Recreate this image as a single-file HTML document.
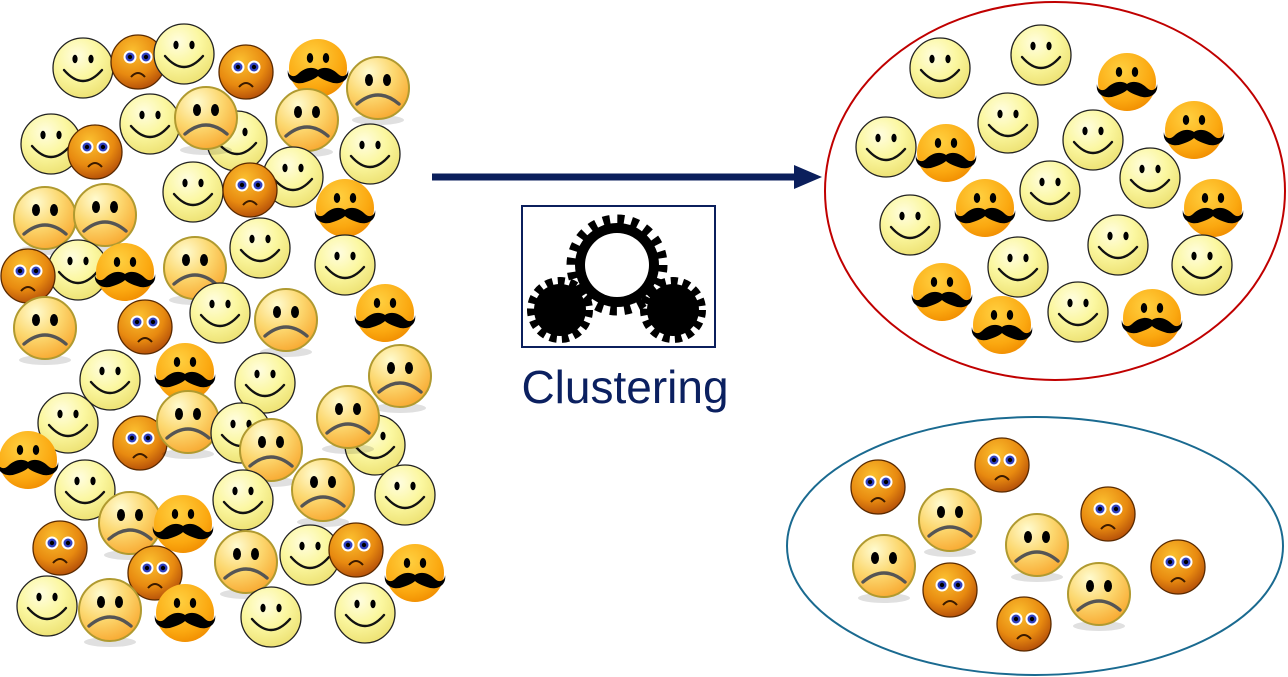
<!DOCTYPE html>
<html><head><meta charset="utf-8"><style>
html,body{margin:0;padding:0;background:#fff;width:1288px;height:677px;overflow:hidden}
svg{display:block}
</style></head><body>
<svg width="1288" height="677" viewBox="0 0 1288 677" xmlns="http://www.w3.org/2000/svg">
<defs>
<radialGradient id="gs" cx="40%" cy="30%" r="75%"><stop offset="0" stop-color="#fffde0"/><stop offset="0.5" stop-color="#fbf7a0"/><stop offset="1" stop-color="#ece070"/></radialGradient>
<radialGradient id="gf" cx="35%" cy="25%" r="80%"><stop offset="0" stop-color="#fffbd0"/><stop offset="0.5" stop-color="#fcd870"/><stop offset="1" stop-color="#f8a830"/></radialGradient>
<radialGradient id="gc" cx="40%" cy="30%" r="75%"><stop offset="0" stop-color="#fbc030"/><stop offset="0.6" stop-color="#e88a10"/><stop offset="1" stop-color="#b04a08"/></radialGradient>
<radialGradient id="gm" cx="40%" cy="30%" r="75%"><stop offset="0" stop-color="#ffd040"/><stop offset="0.7" stop-color="#fba810"/><stop offset="1" stop-color="#f08c00"/></radialGradient>
<g id="S"><circle r="30" fill="url(#gs)" stroke="#222" stroke-width="1.3"/><ellipse cx="-8" cy="-9" rx="2.6" ry="4.2"/><ellipse cx="8" cy="-9" rx="2.6" ry="4.2"/><path d="M-19,2 Q0,24 19,2" fill="none" stroke="#111" stroke-width="2.4" stroke-linecap="round"/></g>
<g id="F"><ellipse cx="0" cy="32" rx="26" ry="5" fill="#000" opacity="0.12"/><circle r="31" fill="url(#gf)" stroke="#b09a30" stroke-width="2"/><ellipse cx="-9" cy="-8" rx="4" ry="6"/><ellipse cx="9" cy="-8" rx="4" ry="6"/><path d="M-21,16 Q0,-2 21,16" fill="none" stroke="#555" stroke-width="3.4" stroke-linecap="round"/></g>
<g id="C"><circle r="27" fill="url(#gc)" stroke="#5a2a00" stroke-width="1.3"/><circle cx="-8" cy="-5" r="6.5" fill="#fff"/><circle cx="8" cy="-5" r="6.5" fill="#fff"/><circle cx="-8" cy="-5" r="4.5" fill="#3040c0"/><circle cx="8" cy="-5" r="4.5" fill="#3040c0"/><circle cx="-8" cy="-5" r="2.2" fill="#000"/><circle cx="8" cy="-5" r="2.2" fill="#000"/><path d="M-7,15 Q0,7 7,15" fill="none" stroke="#3a1a00" stroke-width="2"/></g>
<g id="M"><circle r="29" fill="url(#gm)"/><ellipse cx="-8" cy="-10" rx="3.2" ry="5"/><ellipse cx="8" cy="-10" rx="3.2" ry="5"/><path d="M0,2 C-6,-2 -14,0 -20,6 C-24,10 -30,8 -30,2 C-32,12 -22,18 -12,14 C-6,12 -2,10 0,8 C2,10 6,12 12,14 C22,18 32,12 30,2 C30,8 24,10 20,6 C14,0 6,-2 0,2 Z"/></g>
</defs>
<!-- left cluster -->
<use href="#S" x="83" y="68"/><use href="#C" x="138" y="62"/><use href="#S" x="184" y="54"/><use href="#C" x="246" y="72"/><use href="#M" x="318" y="68"/><use href="#F" x="378" y="88"/>
<use href="#S" x="237" y="141"/><use href="#S" x="150" y="124"/><use href="#F" x="206" y="118"/><use href="#F" x="307" y="120"/><use href="#S" x="51" y="144"/><use href="#C" x="95" y="152"/><use href="#S" x="370" y="154"/>
<use href="#S" x="293" y="177"/><use href="#S" x="193" y="192"/><use href="#C" x="250" y="190"/><use href="#M" x="345" y="208"/>
<use href="#F" x="45" y="218"/><use href="#F" x="105" y="215"/><use href="#S" x="260" y="248"/><use href="#S" x="78" y="270"/><use href="#C" x="28" y="276"/><use href="#M" x="125" y="272"/><use href="#F" x="195" y="268"/><use href="#S" x="345" y="265"/>
<use href="#F" x="45" y="328"/><use href="#C" x="145" y="327"/><use href="#S" x="220" y="313"/><use href="#F" x="286" y="320"/><use href="#M" x="385" y="313"/>
<use href="#S" x="110" y="380"/><use href="#M" x="185" y="372"/><use href="#S" x="265" y="383"/><use href="#F" x="400" y="376"/>
<use href="#S" x="68" y="423"/><use href="#C" x="140" y="443"/><use href="#F" x="188" y="422"/><use href="#S" x="241" y="433"/><use href="#S" x="375" y="445"/><use href="#F" x="271" y="450"/><use href="#F" x="348" y="417"/>
<use href="#M" x="28" y="460"/><use href="#S" x="85" y="490"/><use href="#F" x="130" y="523"/><use href="#M" x="183" y="524"/><use href="#S" x="243" y="500"/><use href="#F" x="323" y="490"/><use href="#S" x="405" y="495"/>
<use href="#C" x="60" y="548"/><use href="#C" x="155" y="573"/><use href="#F" x="246" y="562"/><use href="#S" x="310" y="555"/><use href="#C" x="356" y="550"/><use href="#M" x="415" y="573"/>
<use href="#S" x="47" y="606"/><use href="#F" x="110" y="610"/><use href="#M" x="185" y="613"/><use href="#S" x="271" y="617"/><use href="#S" x="365" y="613"/>
<!-- arrow -->
<line x1="432" y1="177" x2="798" y2="177" stroke="#0b1f5c" stroke-width="7"/>
<polygon points="794,165 822,177 794,189" fill="#0b1f5c"/>
<!-- gear box -->
<rect x="522" y="206" width="193" height="141" fill="#fff" stroke="#0b1f5c" stroke-width="2"/>
<g>
<circle cx="560" cy="310" r="26" fill="#000"/><circle cx="560" cy="310" r="29" fill="none" stroke="#000" stroke-width="8" stroke-dasharray="7 5.2"/>
<circle cx="673" cy="310" r="26" fill="#000"/><circle cx="673" cy="310" r="29" fill="none" stroke="#000" stroke-width="8" stroke-dasharray="7 5.2"/>
<circle cx="617" cy="265" r="42" fill="#000"/><circle cx="617" cy="265" r="46" fill="none" stroke="#000" stroke-width="9" stroke-dasharray="7 7.45"/>
<circle cx="617" cy="265" r="32" fill="#fff"/>
</g>
<text x="625" y="403" text-anchor="middle" font-family="Liberation Sans, sans-serif" font-size="46" fill="#0b2060">Clustering</text>
<!-- red cluster -->
<ellipse cx="1055" cy="191" rx="230" ry="189" fill="none" stroke="#c00000" stroke-width="2"/>
<use href="#S" x="940" y="68"/><use href="#S" x="1041" y="55"/><use href="#M" x="1127" y="82"/><use href="#S" x="1008" y="123"/><use href="#S" x="1093" y="140"/><use href="#M" x="1194" y="130"/><use href="#S" x="886" y="147"/><use href="#M" x="946" y="153"/><use href="#S" x="1150" y="178"/><use href="#S" x="1050" y="191"/><use href="#M" x="985" y="208"/><use href="#M" x="1213" y="208"/><use href="#S" x="910" y="225"/><use href="#S" x="1118" y="245"/><use href="#S" x="1018" y="267"/><use href="#S" x="1202" y="265"/><use href="#M" x="942" y="292"/><use href="#S" x="1078" y="312"/><use href="#M" x="1002" y="325"/><use href="#M" x="1152" y="318"/>
<!-- blue cluster -->
<ellipse cx="1035" cy="546" rx="248" ry="129" fill="none" stroke="#1a6a90" stroke-width="2"/>
<use href="#C" x="878" y="487"/><use href="#C" x="1002" y="465"/><use href="#F" x="950" y="520"/><use href="#C" x="1108" y="514"/><use href="#F" x="1037" y="545"/><use href="#F" x="884" y="566"/><use href="#C" x="1178" y="567"/><use href="#C" x="950" y="590"/><use href="#F" x="1099" y="594"/><use href="#C" x="1024" y="624"/>
</svg>
</body></html>
